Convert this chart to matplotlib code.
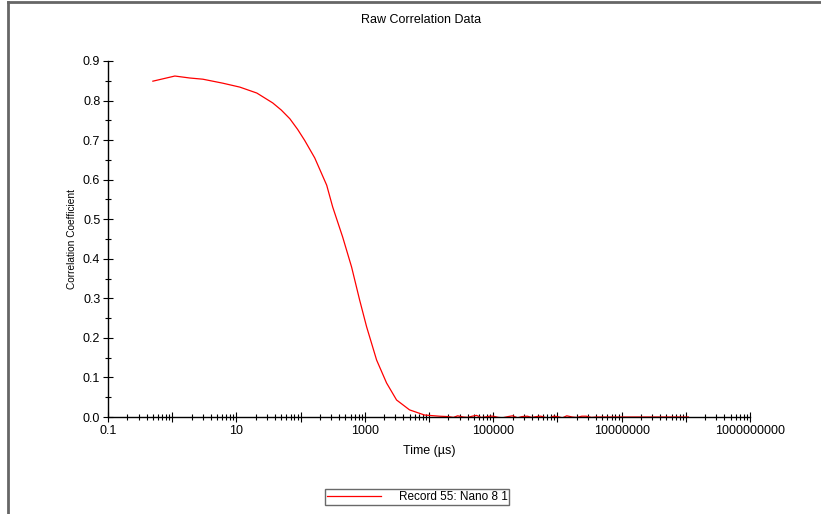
import matplotlib
matplotlib.use('Agg')
from matplotlib import pyplot as plt
from matplotlib.lines import Line2D
from matplotlib.ticker import FixedLocator, FuncFormatter, LogLocator, MultipleLocator, NullFormatter

plt.rcParams['font.family'] = ['Liberation Sans', 'DejaVu Sans']

# Raw correlation data - time in microseconds, correlation coefficient
time_us = [0.50, 1.10, 1.88, 3.0, 6.1, 11.3, 20.8, 36.8, 50, 68, 90, 116, 166,
           255, 316, 452, 623, 830, 1067, 1527, 2183, 3124, 4977, 8500, 14600,
           20000, 24000, 28000, 34000, 40000, 47000, 55000, 65000, 75000, 88000, 100000,
           120000, 140000, 170000, 200000, 240000, 280000, 340000, 400000, 470000,
           550000, 650000, 750000, 880000, 1000000, 1200000, 1400000, 1700000, 2000000,
           2400000, 2800000, 3400000, 4000000, 110000000]
corr = [0.849, 0.862, 0.857, 0.854, 0.844, 0.834, 0.819, 0.794, 0.776, 0.754, 0.727, 0.699, 0.655,
        0.586, 0.531, 0.455, 0.379, 0.296, 0.228, 0.144, 0.086, 0.043, 0.018, 0.005, 0.002,
        0.001, -0.001, 0.003, 0.000, -0.001, 0.002, 0.004, -0.001, 0.000, 0.002, 0.002,
        -0.001, -0.002, 0.001, 0.003, -0.002, 0.001, 0.002, -0.001, 0.001,
        0.002, -0.001, -0.002, 0.002, 0.001, -0.002, 0.003, 0.000, -0.001,
        0.002, 0.002, -0.001, 0.000, 0.000]

series_name = 'Record 55: Nano 8 1'
decades = [10.0 ** k for k in range(-1, 10)]
labelled = ['0.1', '10', '1000', '100000', '10000000', '1000000000']


def x_label(v, p):
    s = '%g' % v if v < 1 else '%d' % round(v)
    return s if s in labelled else ''


fig = plt.figure(figsize=(8.21, 5.14), dpi=100)
ax = fig.add_axes([108 / 821, 97 / 514, 642 / 821, 356 / 514])

line, = ax.plot(time_us, corr, color='#ff0000', lw=0.9, label=series_name)

ax.set_xscale('log')
ax.set_xlim(0.1, 1e9)
ax.set_ylim(0, 0.9)

ax.xaxis.set_major_locator(FixedLocator(decades))
ax.xaxis.set_major_formatter(FuncFormatter(x_label))
ax.xaxis.set_minor_locator(LogLocator(base=10, subs=range(2, 10), numticks=100))
ax.xaxis.set_minor_formatter(NullFormatter())
ax.yaxis.set_major_locator(MultipleLocator(0.1))
ax.yaxis.set_minor_locator(MultipleLocator(0.05))
ax.yaxis.set_major_formatter(FuncFormatter(lambda v, p: '%.1f' % v))

for s in ['top', 'right']:
    ax.spines[s].set_visible(False)
for s in ['left', 'bottom']:
    ax.spines[s].set_linewidth(1.0)
    ax.spines[s].set_color('black')

ax.tick_params(which='major', direction='inout', length=7, width=0.8, labelsize=9, pad=2)
ax.tick_params(which='minor', direction='inout', length=4, width=0.8)

fig.text(421 / 821, 1 - 20 / 514, 'Raw Correlation Data', ha='center', va='center', fontsize=9)
ax.set_xlabel('Time (µs)', fontsize=9, labelpad=6)
ax.set_ylabel('Correlation Coefficient', fontsize=7.3, labelpad=4)

fig.legend(handles=[line], loc='center', bbox_to_anchor=(417 / 821, 1 - 497 / 514),
           fontsize=8.5, frameon=True, fancybox=False, edgecolor='#444444',
           handlelength=4.6, handletextpad=1.5, borderpad=0.15, borderaxespad=0)

# window border (left and top)
fig.add_artist(Line2D([8 / 821, 8 / 821], [0, 1 - 2 / 514], color='#666666', lw=2))
fig.add_artist(Line2D([8 / 821, 1], [1 - 2 / 514, 1 - 2 / 514], color='#666666', lw=2))

fig.savefig('out.png', dpi=100)
